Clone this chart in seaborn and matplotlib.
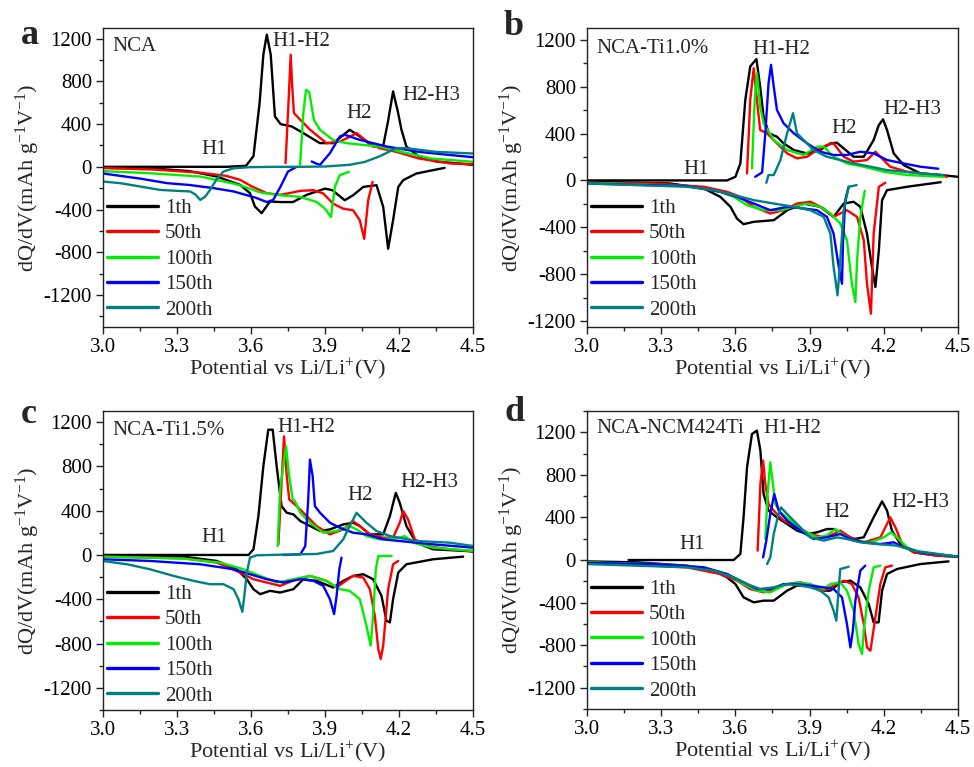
import matplotlib
matplotlib.use("Agg")
import matplotlib.pyplot as plt
from matplotlib.lines import Line2D
from matplotlib.ticker import MultipleLocator, FormatStrFormatter
import pandas as pd
import seaborn as sns

# ---------------------------------------------------------------------------
# dQ/dV curves (potential in V, dQ/dV in mAh g^-1 V^-1); CHG = charge branch,
# DIS = discharge branch
# ---------------------------------------------------------------------------
CYCLES = ["1th", "50th", "100th", "150th", "200th"]
SAMPLES = ["NCA", "NCA-Ti1.0%", "NCA-Ti1.5%", "NCA-NCM424Ti"]
PANEL_TAGS = ["a", "b", "c", "d"]

# ----- panel a : NCA -----
A_1TH_CHG_V = [3.00, 3.50, 3.58, 3.61, 3.635, 3.65, 3.664, 3.68, 3.697, 3.72, 3.765, 3.812, 3.879, 3.933, 3.97, 4.00, 4.041, 4.095, 4.136, 4.155, 4.176, 4.195, 4.21, 4.23, 4.28, 4.35, 4.50]
A_1TH_CHG_Q = [0, 0, 10, 100, 600, 1050, 1238, 1050, 472, 400, 378, 316, 222, 222, 290, 347, 284, 190, 196, 420, 706, 520, 347, 190, 97, 50, 19]
A_1TH_DIS_V = [4.385, 4.338, 4.27, 4.217, 4.197, 4.176, 4.156, 4.136, 4.109, 4.055, 4.014, 3.98, 3.93, 3.90, 3.866, 3.826, 3.77, 3.72, 3.677, 3.643, 3.616, 3.596, 3.556, 3.461, 3.35, 3.20, 3.00]
A_1TH_DIS_Q = [-10, -31, -63, -125, -188, -500, -767, -376, -172, -188, -266, -313, -219, -204, -231, -262, -330, -330, -325, -434, -372, -247, -169, -91, -40, -15, -8]
A_50TH_CHG_V = [3.74, 3.752, 3.761, 3.767, 3.774, 3.80, 3.84, 3.906, 3.96, 4.00, 4.028, 4.07, 4.12, 4.19, 4.28, 4.41, 4.50]
A_50TH_CHG_Q = [34, 600, 1050, 750, 503, 440, 346, 222, 237, 280, 316, 237, 175, 140, 78, 31, 25]
A_50TH_DIS_V = [4.093, 4.075, 4.059, 4.041, 4.014, 3.974, 3.933, 3.893, 3.853, 3.80, 3.758, 3.72, 3.664, 3.60, 3.556, 3.50, 3.394, 3.20, 3.00]
A_50TH_DIS_Q = [-141, -313, -674, -500, -407, -392, -345, -250, -219, -225, -245, -262, -247, -180, -122, -85, -55, -25, -12]
A_100TH_CHG_V = [3.799, 3.812, 3.823, 3.836, 3.855, 3.88, 3.933, 3.987, 4.05, 4.12, 4.21, 4.33, 4.50]
A_100TH_CHG_Q = [19, 500, 722, 700, 440, 346, 250, 222, 206, 190, 140, 78, 47]
A_100TH_DIS_V = [3.997, 3.96, 3.94, 3.924, 3.90, 3.866, 3.80, 3.718, 3.637, 3.57, 3.529, 3.394, 3.19, 3.00]
A_100TH_DIS_Q = [-47, -78, -188, -470, -392, -329, -282, -266, -240, -184, -157, -91, -60, -40]
A_150TH_CHG_V = [3.846, 3.865, 3.88, 3.92, 3.96, 3.98, 4.04, 4.15, 4.28, 4.41, 4.50]
A_150TH_CHG_Q = [50, 30, 19, 128, 284, 300, 253, 190, 140, 110, 90]
A_150TH_DIS_V = [3.785, 3.75, 3.72, 3.69, 3.664, 3.62, 3.53, 3.45, 3.35, 3.26, 3.15, 3.07, 3.00]
A_150TH_DIS_Q = [0, -44, -184, -310, -330, -290, -231, -200, -170, -153, -110, -85, -62]
A_200TH_CHG_V = [3.53, 3.60, 3.70, 3.80, 3.90, 4.00, 4.06, 4.12, 4.19, 4.23, 4.35, 4.50]
A_200TH_CHG_Q = [-13, -3, 0, 0, 3, 19, 45, 97, 175, 175, 140, 125]
A_200TH_DIS_V = [3.53, 3.488, 3.46, 3.434, 3.414, 3.394, 3.375, 3.354, 3.30, 3.23, 3.15, 3.07, 3.00]
A_200TH_DIS_Q = [-13, -44, -120, -216, -280, -310, -260, -231, -225, -216, -184, -153, -138]

# ----- panel b : NCA-Ti1.0% -----
B_1TH_CHG_V = [3.00, 3.566, 3.60, 3.62, 3.64, 3.66, 3.685, 3.70, 3.714, 3.735, 3.768, 3.795, 3.836, 3.89, 3.943, 3.984, 4.01, 4.038, 4.078, 4.119, 4.159, 4.18, 4.197, 4.213, 4.24, 4.28, 4.348, 4.43, 4.50]
B_1TH_CHG_Q = [0, 0, 31, 145, 687, 972, 1035, 800, 544, 402, 373, 316, 259, 230, 259, 316, 322, 273, 202, 202, 345, 473, 521, 430, 231, 131, 60, 46, 31]
B_1TH_DIS_V = [4.43, 4.294, 4.213, 4.193, 4.18, 4.166, 4.152, 4.132, 4.105, 4.078, 4.038, 3.997, 3.943, 3.876, 3.81, 3.755, 3.674, 3.633, 3.606, 3.58, 3.539, 3.472, 3.337, 3.00]
B_1TH_DIS_Q = [-15, -54, -83, -168, -596, -909, -738, -453, -225, -182, -197, -311, -225, -197, -254, -339, -353, -373, -325, -225, -140, -68, -26, -11]
B_50TH_CHG_V = [3.647, 3.66, 3.674, 3.687, 3.70, 3.728, 3.768, 3.809, 3.849, 3.89, 3.93, 3.97, 3.997, 4.038, 4.078, 4.132, 4.166, 4.186, 4.226, 4.294, 4.415, 4.455]
B_50TH_CHG_Q = [60, 687, 958, 687, 430, 402, 316, 231, 188, 202, 259, 302, 316, 202, 160, 174, 245, 202, 117, 74, 46, 31]
B_50TH_DIS_V = [4.206, 4.18, 4.159, 4.148, 4.132, 4.119, 4.092, 4.051, 4.024, 3.997, 3.957, 3.903, 3.849, 3.795, 3.741, 3.674, 3.62, 3.566, 3.472, 3.27, 3.00]
B_50TH_DIS_Q = [-20, -54, -453, -1137, -881, -510, -311, -254, -282, -311, -239, -182, -197, -254, -282, -225, -140, -97, -54, -26, -20]
B_100TH_CHG_V = [3.667, 3.678, 3.687, 3.70, 3.714, 3.755, 3.809, 3.876, 3.93, 3.957, 3.997, 4.051, 4.119, 4.20, 4.294, 4.442]
B_100TH_CHG_Q = [103, 687, 915, 630, 487, 345, 259, 217, 288, 288, 202, 145, 117, 74, 46, 31]
B_100TH_DIS_V = [4.123, 4.105, 4.092, 4.085, 4.071, 4.051, 4.024, 3.984, 3.943, 3.889, 3.836, 3.782, 3.714, 3.647, 3.593, 3.539, 3.404, 3.00]
B_100TH_DIS_Q = [-88, -311, -681, -1037, -881, -510, -368, -282, -225, -197, -225, -254, -254, -211, -140, -97, -48, -20]
B_150TH_CHG_V = [3.68, 3.708, 3.721, 3.734, 3.744, 3.755, 3.768, 3.795, 3.836, 3.89, 3.943, 3.997, 4.051, 4.105, 4.159, 4.213, 4.28, 4.348, 4.42]
B_150TH_CHG_Q = [31, 68, 402, 829, 986, 800, 601, 487, 402, 316, 245, 217, 217, 245, 231, 174, 145, 117, 100]
B_150TH_DIS_V = [4.058, 4.044, 4.035, 4.031, 4.018, 3.997, 3.97, 3.93, 3.876, 3.809, 3.741, 3.674, 3.606, 3.539, 3.404, 3.00]
B_150TH_DIS_Q = [-54, -168, -539, -881, -738, -453, -311, -254, -239, -225, -254, -197, -140, -97, -48, -26]
B_200TH_CHG_V = [3.725, 3.734, 3.755, 3.782, 3.809, 3.833, 3.849, 3.876, 3.916, 3.97, 4.024, 4.078, 4.146, 4.213, 4.348, 4.44]
B_200TH_CHG_Q = [-20, 46, 46, 174, 402, 573, 402, 345, 259, 202, 174, 145, 117, 88, 60, 46]
B_200TH_DIS_V = [4.09, 4.058, 4.038, 4.024, 4.013, 3.997, 3.984, 3.957, 3.903, 3.836, 3.755, 3.674, 3.593, 3.512, 3.404, 3.00]
B_200TH_DIS_Q = [-40, -54, -254, -681, -980, -738, -453, -311, -254, -225, -197, -168, -125, -83, -54, -26]

# ----- panel c : NCA-Ti1.5% -----
C_1TH_CHG_V = [3.00, 3.59, 3.61, 3.63, 3.65, 3.67, 3.688, 3.704, 3.724, 3.745, 3.772, 3.80, 3.84, 3.88, 3.92, 3.974, 4.014, 4.041, 4.082, 4.136, 4.163, 4.187, 4.203, 4.23, 4.27, 4.338, 4.473, 4.50]
C_1TH_CHG_Q = [0, 0, 51, 351, 801, 1131, 1131, 801, 441, 381, 366, 306, 261, 216, 231, 276, 291, 261, 186, 186, 351, 561, 471, 261, 111, 51, 36, 30]
C_1TH_DIS_V = [4.46, 4.338, 4.23, 4.197, 4.176, 4.163, 4.149, 4.129, 4.095, 4.055, 4.014, 3.974, 3.933, 3.866, 3.812, 3.772, 3.718, 3.677, 3.637, 3.61, 3.583, 3.542, 3.461, 3.326, 3.00]
C_1TH_DIS_Q = [-15, -39, -84, -159, -399, -609, -594, -369, -219, -174, -189, -234, -294, -234, -219, -309, -339, -324, -354, -309, -219, -129, -54, -15, -3]
C_50TH_CHG_V = [3.711, 3.724, 3.734, 3.745, 3.755, 3.785, 3.826, 3.866, 3.92, 3.974, 4.014, 4.041, 4.082, 4.136, 4.176, 4.203, 4.217, 4.237, 4.264, 4.311, 4.406, 4.50]
C_50TH_CHG_Q = [96, 651, 1071, 711, 501, 441, 351, 261, 186, 231, 306, 261, 186, 156, 156, 291, 396, 321, 141, 81, 51, 36]
C_50TH_DIS_V = [4.197, 4.176, 4.156, 4.136, 4.126, 4.116, 4.102, 4.082, 4.055, 4.014, 3.974, 3.947, 3.906, 3.839, 3.785, 3.718, 3.664, 3.61, 3.556, 3.461, 3.326, 3.00]
C_50TH_DIS_Q = [-54, -84, -309, -819, -939, -849, -549, -309, -204, -189, -249, -294, -234, -189, -219, -279, -249, -219, -159, -69, -30, -15]
C_100TH_CHG_V = [3.708, 3.718, 3.742, 3.755, 3.769, 3.778, 3.80, 3.84, 3.893, 3.947, 4.00, 4.028, 4.068, 4.122, 4.203, 4.223, 4.257, 4.338, 4.50]
C_100TH_CHG_Q = [81, 591, 981, 711, 501, 486, 381, 291, 201, 216, 261, 231, 171, 141, 156, 171, 111, 66, 36]
C_100TH_DIS_V = [4.17, 4.116, 4.106, 4.095, 4.085, 4.068, 4.041, 4.00, 3.96, 3.906, 3.839, 3.772, 3.704, 3.637, 3.569, 3.475, 3.326, 3.00]
C_100TH_DIS_Q = [-9, -9, -129, -549, -819, -639, -399, -324, -309, -234, -189, -219, -249, -189, -129, -69, -33, -15]
C_150TH_CHG_V = [3.731, 3.80, 3.82, 3.832, 3.839, 3.85, 3.859, 3.88, 3.92, 3.96, 4.014, 4.068, 4.136, 4.203, 4.338, 4.50]
C_150TH_CHG_Q = [0, 6, 81, 501, 861, 711, 441, 381, 291, 246, 201, 186, 141, 126, 96, 66]
C_150TH_DIS_V = [3.967, 3.958, 3.947, 3.937, 3.92, 3.893, 3.853, 3.80, 3.731, 3.664, 3.596, 3.529, 3.394, 3.19, 3.00]
C_150TH_DIS_Q = [-24, -129, -369, -534, -399, -279, -234, -219, -249, -219, -174, -129, -84, -54, -39]
C_200TH_CHG_V = [3.596, 3.623, 3.731, 3.866, 3.933, 3.974, 4.00, 4.028, 4.041, 4.068, 4.109, 4.163, 4.271, 4.406, 4.50]
C_200TH_CHG_Q = [-24, -3, 3, 9, 36, 141, 261, 381, 351, 291, 216, 171, 126, 111, 81]
C_200TH_DIS_V = [3.596, 3.583, 3.573, 3.565, 3.549, 3.529, 3.488, 3.434, 3.367, 3.286, 3.19, 3.097, 3.00]
C_200TH_DIS_Q = [-24, -159, -369, -513, -399, -309, -264, -264, -234, -189, -129, -84, -54]

# ----- panel d : NCA-NCM424Ti -----
D_1TH_CHG_V = [3.168, 3.593, 3.62, 3.633, 3.647, 3.667, 3.687, 3.701, 3.714, 3.734, 3.768, 3.809, 3.849, 3.89, 3.93, 3.97, 3.997, 4.038, 4.078, 4.119, 4.159, 4.193, 4.213, 4.233, 4.267, 4.321, 4.415, 4.50]
D_1TH_CHG_Q = [0, 0, 56, 401, 871, 1184, 1216, 1028, 620, 464, 401, 338, 276, 244, 260, 291, 291, 244, 197, 213, 401, 551, 464, 276, 150, 72, 41, 31]
D_1TH_DIS_V = [4.462, 4.348, 4.253, 4.213, 4.193, 4.179, 4.159, 4.139, 4.105, 4.065, 4.024, 3.984, 3.943, 3.903, 3.849, 3.809, 3.755, 3.714, 3.674, 3.633, 3.60, 3.566, 3.512, 3.404, 3.202, 3.00]
D_1TH_DIS_Q = [-13, -38, -85, -132, -288, -586, -586, -414, -257, -194, -210, -288, -288, -241, -241, -288, -382, -382, -398, -351, -226, -163, -100, -53, -22, -13]
D_50TH_CHG_V = [3.69, 3.701, 3.712, 3.721, 3.734, 3.755, 3.795, 3.849, 3.903, 3.957, 3.997, 4.024, 4.065, 4.119, 4.186, 4.213, 4.226, 4.247, 4.274, 4.321, 4.415, 4.50]
D_50TH_CHG_Q = [88, 714, 934, 714, 526, 464, 370, 307, 244, 213, 244, 276, 213, 166, 213, 338, 401, 307, 150, 72, 41, 31]
D_50TH_DIS_V = [4.233, 4.206, 4.186, 4.166, 4.146, 4.132, 4.119, 4.098, 4.071, 4.038, 3.997, 3.957, 3.916, 3.863, 3.809, 3.755, 3.714, 3.66, 3.606, 3.539, 3.404, 3.00]
D_50TH_DIS_Q = [-53, -69, -226, -539, -852, -821, -602, -351, -226, -194, -241, -288, -241, -210, -226, -273, -304, -273, -194, -132, -69, -22]
D_100TH_CHG_V = [3.721, 3.73, 3.741, 3.752, 3.761, 3.782, 3.822, 3.876, 3.93, 3.97, 4.004, 4.031, 4.078, 4.146, 4.20, 4.229, 4.253, 4.294, 4.348, 4.50]
D_100TH_CHG_Q = [197, 620, 918, 714, 526, 448, 370, 276, 213, 229, 291, 244, 182, 166, 213, 260, 213, 119, 72, 31]
D_100TH_DIS_V = [4.186, 4.159, 4.139, 4.119, 4.112, 4.098, 4.078, 4.051, 4.024, 3.984, 3.957, 3.903, 3.849, 3.795, 3.741, 3.687, 3.633, 3.566, 3.472, 3.27, 3.00]
D_100TH_DIS_Q = [-53, -69, -288, -664, -883, -790, -476, -288, -210, -226, -273, -226, -210, -241, -304, -288, -226, -132, -69, -38, -22]
D_150TH_CHG_V = [3.712, 3.725, 3.741, 3.757, 3.775, 3.809, 3.863, 3.916, 3.97, 4.024, 4.065, 4.119, 4.186, 4.24, 4.28, 4.348, 4.50]
D_150TH_CHG_Q = [25, 182, 432, 620, 464, 370, 276, 197, 213, 244, 197, 166, 150, 166, 119, 72, 31]
D_150TH_DIS_V = [4.125, 4.105, 4.085, 4.075, 4.065, 4.051, 4.031, 3.997, 3.957, 3.903, 3.849, 3.795, 3.741, 3.687, 3.633, 3.566, 3.472, 3.27, 3.00]
D_150TH_DIS_Q = [-53, -100, -382, -664, -821, -602, -351, -273, -257, -241, -226, -226, -273, -273, -210, -132, -69, -38, -28]
D_200TH_CHG_V = [3.728, 3.741, 3.755, 3.771, 3.784, 3.809, 3.849, 3.903, 3.957, 4.011, 4.051, 4.105, 4.172, 4.253, 4.321, 4.50]
D_200TH_CHG_Q = [-38, 25, 244, 401, 495, 432, 338, 213, 182, 213, 197, 166, 150, 135, 88, 31]
D_200TH_DIS_V = [4.058, 4.024, 4.017, 4.008, 3.997, 3.977, 3.943, 3.903, 3.863, 3.809, 3.755, 3.701, 3.647, 3.593, 3.512, 3.404, 3.00]
D_200TH_DIS_Q = [-63, -85, -288, -570, -476, -351, -288, -257, -241, -226, -257, -273, -226, -163, -100, -69, -38]

PANEL_DATA = [
    {"1th": (A_1TH_CHG_V, A_1TH_CHG_Q, A_1TH_DIS_V, A_1TH_DIS_Q),
     "50th": (A_50TH_CHG_V, A_50TH_CHG_Q, A_50TH_DIS_V, A_50TH_DIS_Q),
     "100th": (A_100TH_CHG_V, A_100TH_CHG_Q, A_100TH_DIS_V, A_100TH_DIS_Q),
     "150th": (A_150TH_CHG_V, A_150TH_CHG_Q, A_150TH_DIS_V, A_150TH_DIS_Q),
     "200th": (A_200TH_CHG_V, A_200TH_CHG_Q, A_200TH_DIS_V, A_200TH_DIS_Q)},
    {"1th": (B_1TH_CHG_V, B_1TH_CHG_Q, B_1TH_DIS_V, B_1TH_DIS_Q),
     "50th": (B_50TH_CHG_V, B_50TH_CHG_Q, B_50TH_DIS_V, B_50TH_DIS_Q),
     "100th": (B_100TH_CHG_V, B_100TH_CHG_Q, B_100TH_DIS_V, B_100TH_DIS_Q),
     "150th": (B_150TH_CHG_V, B_150TH_CHG_Q, B_150TH_DIS_V, B_150TH_DIS_Q),
     "200th": (B_200TH_CHG_V, B_200TH_CHG_Q, B_200TH_DIS_V, B_200TH_DIS_Q)},
    {"1th": (C_1TH_CHG_V, C_1TH_CHG_Q, C_1TH_DIS_V, C_1TH_DIS_Q),
     "50th": (C_50TH_CHG_V, C_50TH_CHG_Q, C_50TH_DIS_V, C_50TH_DIS_Q),
     "100th": (C_100TH_CHG_V, C_100TH_CHG_Q, C_100TH_DIS_V, C_100TH_DIS_Q),
     "150th": (C_150TH_CHG_V, C_150TH_CHG_Q, C_150TH_DIS_V, C_150TH_DIS_Q),
     "200th": (C_200TH_CHG_V, C_200TH_CHG_Q, C_200TH_DIS_V, C_200TH_DIS_Q)},
    {"1th": (D_1TH_CHG_V, D_1TH_CHG_Q, D_1TH_DIS_V, D_1TH_DIS_Q),
     "50th": (D_50TH_CHG_V, D_50TH_CHG_Q, D_50TH_DIS_V, D_50TH_DIS_Q),
     "100th": (D_100TH_CHG_V, D_100TH_CHG_Q, D_100TH_DIS_V, D_100TH_DIS_Q),
     "150th": (D_150TH_CHG_V, D_150TH_CHG_Q, D_150TH_DIS_V, D_150TH_DIS_Q),
     "200th": (D_200TH_CHG_V, D_200TH_CHG_Q, D_200TH_DIS_V, D_200TH_DIS_Q)},
]

# phase-transition labels: (text, potential, dQ/dV) per panel
PEAK_LABELS = [
    [("H1", 3.40, 160), ("H1-H2", 3.688, 1175), ("H2", 3.987, 500), ("H2-H3", 4.214, 664)],
    [("H1", 3.39, 94), ("H1-H2", 3.667, 1120), ("H2", 3.987, 445), ("H2-H3", 4.197, 601)],
    [("H1", 3.40, 156), ("H1-H2", 3.707, 1152), ("H2", 3.99, 537), ("H2-H3", 4.207, 651)],
    [("H1", 3.375, 150), ("H1-H2", 3.712, 1237), ("H2", 3.961, 448), ("H2-H3", 4.23, 542)],
]
SAMPLE_LABEL_Y = [1128, 1129, 1125, 1231]
Y_LIMITS = [(-1500, 1300), (-1250, 1300), (-1400, 1300), (-1400, 1400)]

COLORS = ["#000000", "#ff0000", "#00ee00", "#0000ff", "#008080"]

# ---------------------------------------------------------------------------
sns.set_theme(style="ticks")
plt.rcParams.update({
    "font.family": ["Liberation Serif", "DejaVu Serif"],
    "mathtext.fontset": "custom",
    "mathtext.rm": "Liberation Serif",
    "mathtext.it": "Liberation Serif:italic",
    "mathtext.bf": "Liberation Serif:bold",
    "axes.unicode_minus": False,
    "font.size": 15,
    "axes.edgecolor": "#222222",
    "axes.linewidth": 1.0,
    "xtick.color": "#222222",
    "ytick.color": "#222222",
    "xtick.labelcolor": "black",
    "ytick.labelcolor": "black",
})

FS = 15
FS_LABEL = 16
fig = plt.figure(figsize=(9.74, 7.67), dpi=100)
W, H = 974.0, 767.0
# axes boxes in pixels: (left, top, right, bottom)
BOXES = [(103, 28, 473, 327), (587, 28, 958, 327), (103, 411, 473, 710), (587, 411, 958, 709)]
TAG_POS = [(21, 44), (504, 35), (21, 423), (504, 421)]
LEGEND_TOP = [0.43, 0.43, 0.42, 0.435]

palette = dict(zip(CYCLES, COLORS))

for i, box in enumerate(BOXES):
    l, t, r, b = box
    ax = fig.add_axes([l / W, 1 - b / H, (r - l) / W, (b - t) / H])

    rows = []
    for cyc in CYCLES:
        cv, cq, dv, dq = PANEL_DATA[i][cyc]
        rows += [{"V": v, "Q": q, "cycle": cyc, "branch": cyc + "-chg"}
                 for v, q in zip(cv, cq)]
        rows += [{"V": v, "Q": q, "cycle": cyc, "branch": cyc + "-dis"}
                 for v, q in zip(dv, dq)]
    df = pd.DataFrame(rows)

    sns.lineplot(data=df, x="V", y="Q", hue="cycle", units="branch",
                 estimator=None, sort=False, palette=palette,
                 hue_order=CYCLES, linewidth=1.7, legend=False, ax=ax)

    ax.set_xlim(3.0, 4.5)
    ax.set_ylim(*Y_LIMITS[i])
    ax.xaxis.set_major_locator(MultipleLocator(0.3))
    ax.xaxis.set_minor_locator(MultipleLocator(0.15))
    ax.yaxis.set_major_locator(MultipleLocator(400))
    ax.yaxis.set_minor_locator(MultipleLocator(200))
    ax.xaxis.set_major_formatter(FormatStrFormatter("%.1f"))
    ax.tick_params(which="major", direction="out", length=5, width=1.0,
                   labelsize=FS, pad=3)
    ax.tick_params(which="minor", direction="out", length=3, width=1.0)
    ax.tick_params(top=False, right=False)
    for s in ax.spines.values():
        s.set_visible(True)

    ax.set_xlabel("Potential vs Li/Li$^{+}$(V)", fontsize=FS_LABEL, labelpad=0)
    ax.set_ylabel("dQ/dV(mAh g$^{-1}$V$^{-1}$)", fontsize=FS_LABEL, labelpad=1)

    ax.text(0.025, SAMPLE_LABEL_Y[i], SAMPLES[i], transform=ax.get_yaxis_transform(),
            fontsize=FS, va="center", ha="left")
    for txt, xv, yv in PEAK_LABELS[i]:
        ax.text(xv, yv, txt, fontsize=FS, va="center", ha="left")

    handles = [Line2D([], [], color=c, lw=2.4) for c in COLORS]
    ax.legend(handles, CYCLES, loc="upper left", bbox_to_anchor=(0.012, LEGEND_TOP[i]),
              frameon=False, fontsize=FS, handlelength=2.45, handletextpad=0.3,
              labelspacing=0.28, borderpad=0, borderaxespad=0)

    tx, ty = TAG_POS[i]
    fig.text(tx / W, 1 - ty / H, PANEL_TAGS[i], fontsize=26, fontweight="bold",
             va="baseline", ha="left")

fig.savefig("out.png", dpi=100)
